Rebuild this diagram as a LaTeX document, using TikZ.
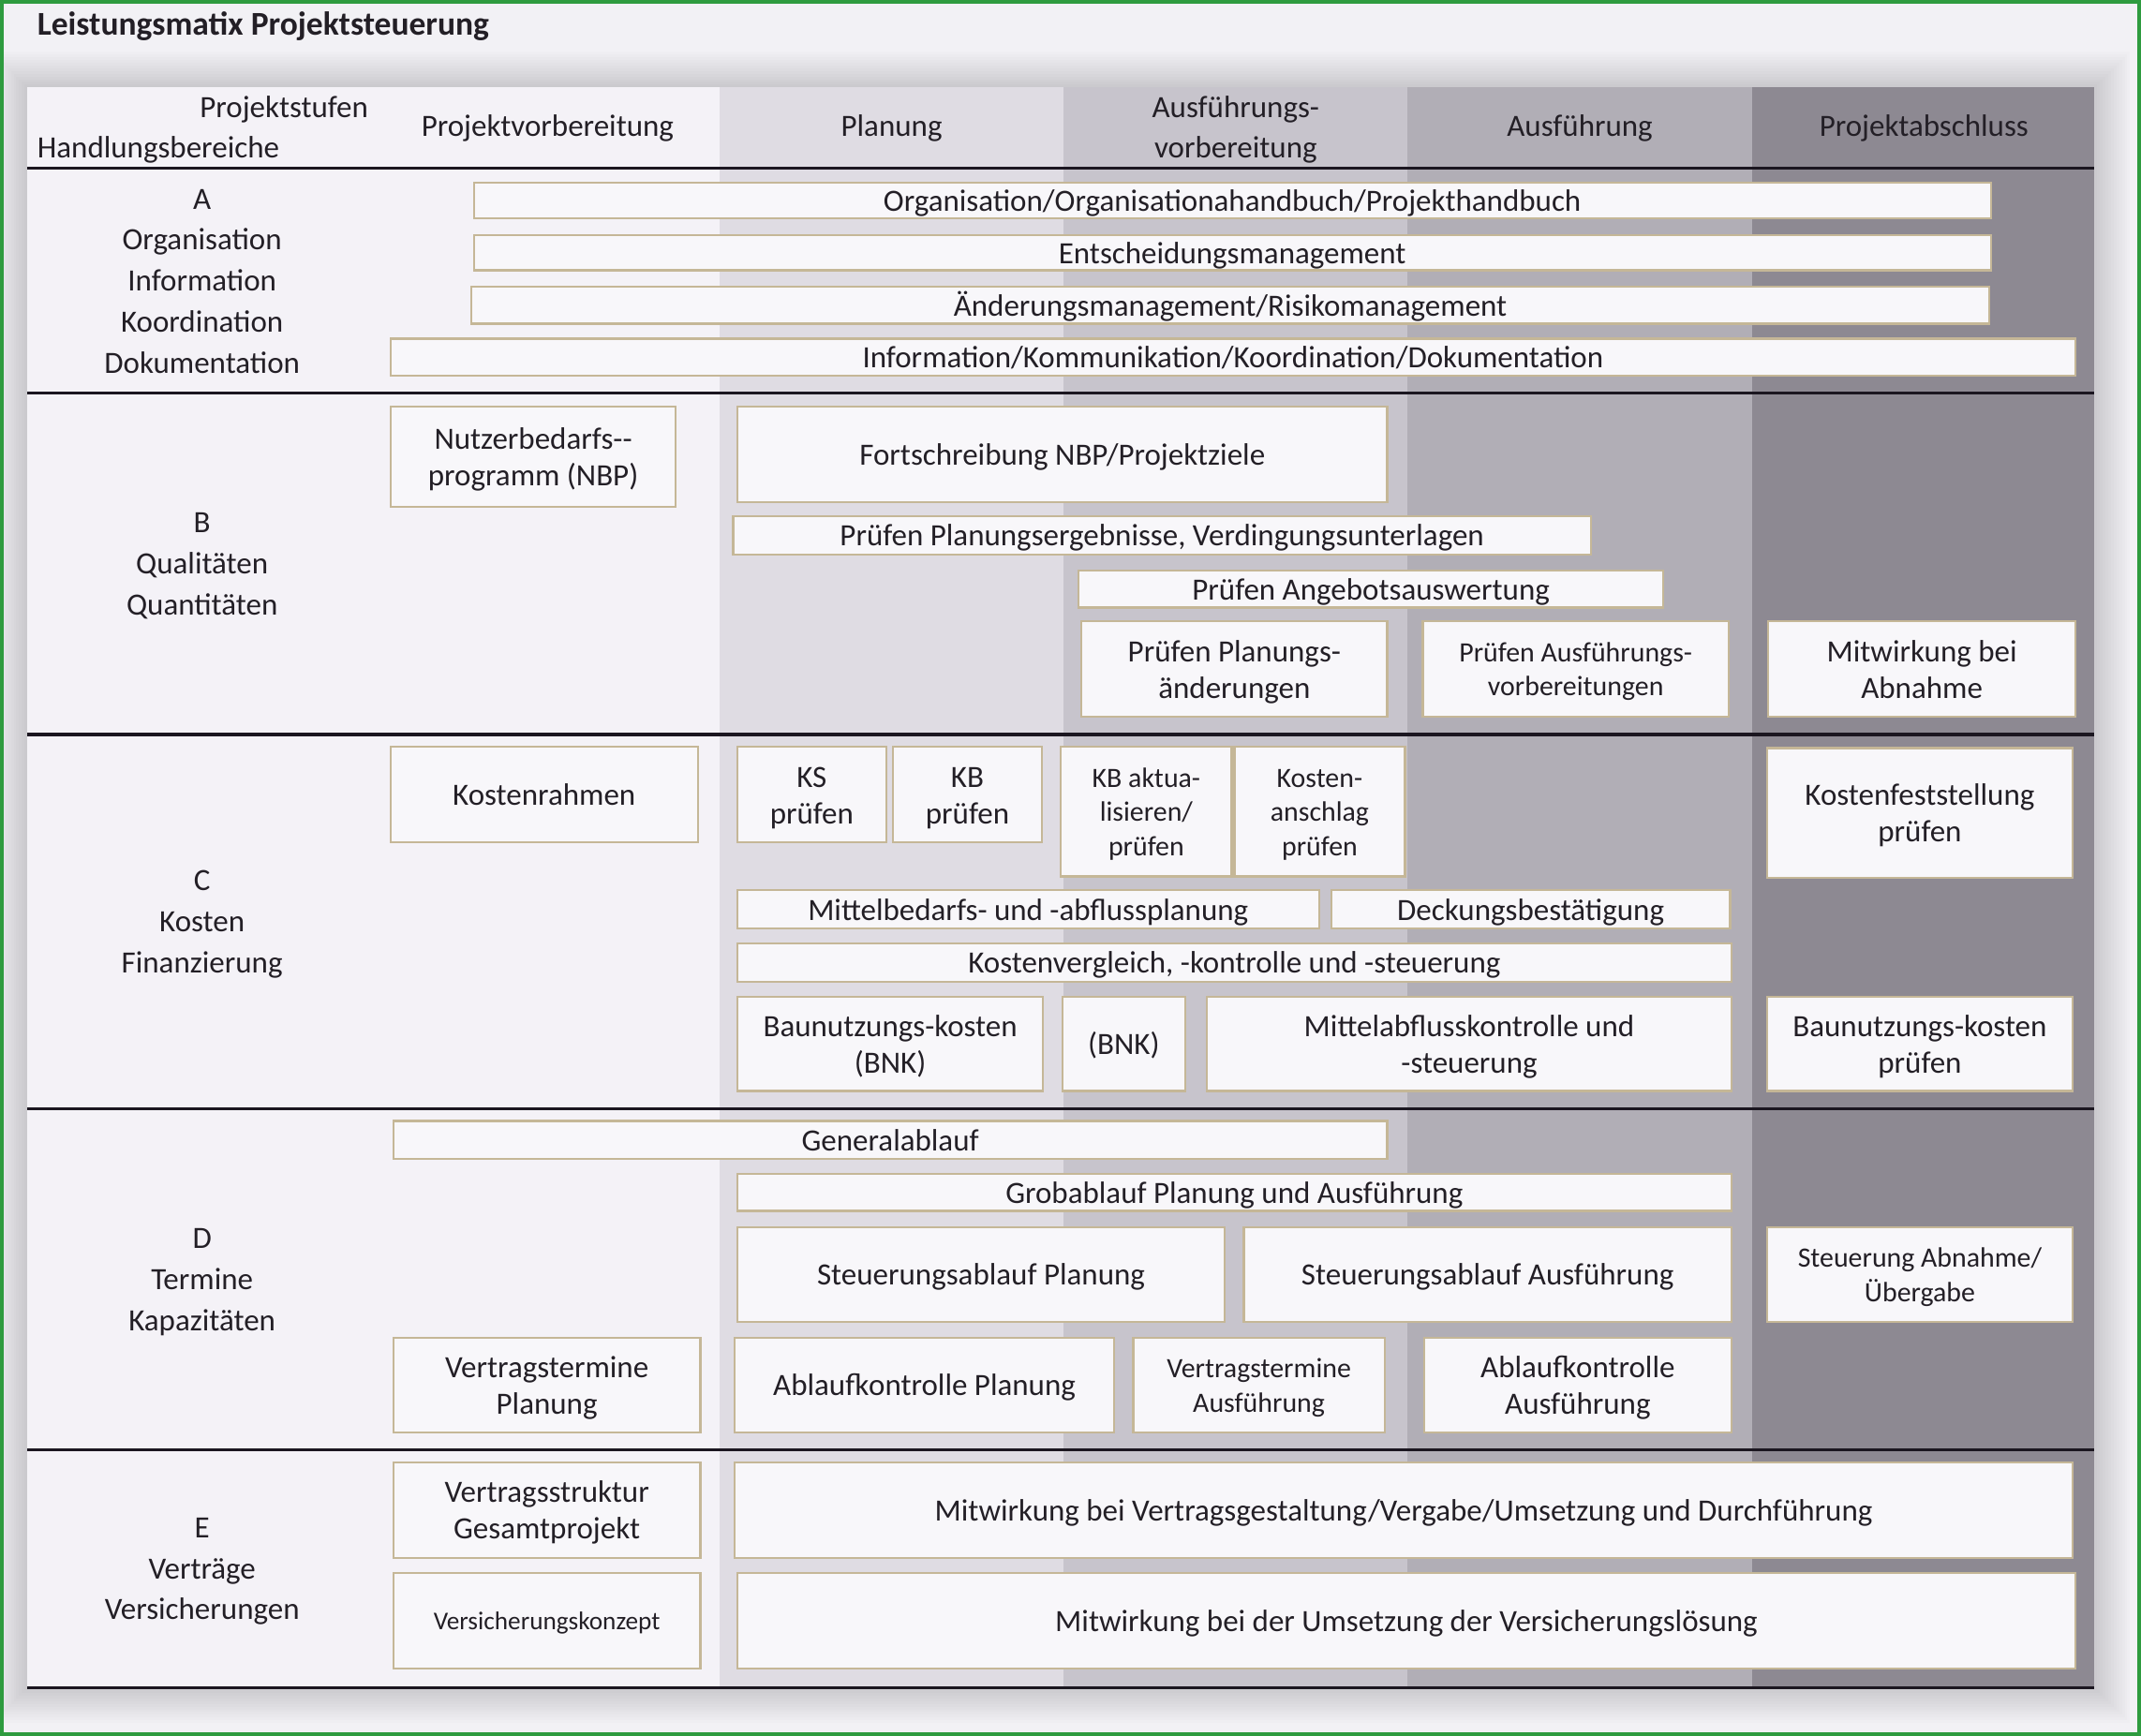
\documentclass[tikz,border=0pt]{standalone}
\usepackage{fontspec}
\setmainfont{Carlito}
\usetikzlibrary{positioning}

\definecolor{grund}{HTML}{F2F1F5}
\definecolor{rahmen}{HTML}{2E9B3F}
\definecolor{spalteA}{HTML}{F4F2F7}
\definecolor{spalteB}{HTML}{DFDCE3}
\definecolor{spalteC}{HTML}{C7C4CC}
\definecolor{spalteD}{HTML}{B1AEB6}
\definecolor{spalteE}{HTML}{8D8992}
\definecolor{feld}{HTML}{F8F7FA}
\definecolor{kante}{HTML}{C5B797}
\definecolor{linie}{HTML}{1B1620}
\definecolor{schrift}{HTML}{231F26}

\newcommand{\titelgr}{\fontsize{14.2}{17}\bfseries\selectfont}
\newcommand{\normalgr}{\fontsize{13.2}{15.7}\selectfont}
\newcommand{\kopfgr}{\fontsize{13.2}{17.5}\selectfont}
\newcommand{\kleingr}{\fontsize{11.95}{14.6}\selectfont}
\newcommand{\winziggr}{\fontsize{10.9}{13}\selectfont}
\newcommand{\zeilenhalt}{\rule[-0.2em]{0pt}{1.1em}}

% one task box: [options]{name}{x1}{y1}{x2}{y2}{text}
\newcommand{\aufgabe}[7][]{%
  \node[aufgabe,#1,minimum width={(#5-#3)*0.583pt},minimum height={(#6-#4)*0.583pt}]
    (#2) at ({(#3+#5)/2},{(#4+#6)/2}) {\zeilenhalt#7\zeilenhalt};}

\begin{document}
\begin{tikzpicture}[x=0.583pt,y=-0.583pt,
    aufgabe/.style={draw=kante,fill=feld,line width=0.9pt,inner xsep=1pt,inner ysep=0pt,align=center,text=schrift,font=\normalgr},
    klein/.style={font=\kleingr},
    kopf/.style={align=center,text=schrift,font=\kopfgr},
    zeile/.style={draw=linie,line width=1.3pt}]

    \useasboundingbox (0,0) rectangle (1568,1271.5);
    \fill[grund] (0,0) rectangle (1568,1271.5);

    % soft halo round the table
    \foreach \s in {2,4,...,26}
        \fill[black,opacity=0.012] (20-\s,64-\s) rectangle (1534+\s,1236+\s);

    % project stage columns
    \foreach \xa/\xb/\farbe in {20/527/spalteA, 527/779/spalteB, 779/1031/spalteC, 1031/1283/spalteD, 1283/1534/spalteE}
        \fill[\farbe] (\xa,64) rectangle (\xb,1236);

    \node[anchor=west,inner sep=0pt,text=schrift,font=\titelgr] (titel) at (27,19) {Leistungsmatix Projektsteuerung};

    % header
    \node[kopf,anchor=east,inner sep=0pt] (stufen) at (270,80) {Projektstufen};
    \node[kopf,anchor=west,inner sep=0pt] (handlung) at (27,110) {Handlungsbereiche};
    \node[kopf] (vorb)    at (401,94)  {Projektvorbereitung};
    \node[kopf] (plan)    at (653,94)  {Planung};
    \node[kopf] (ausfvor) at (905,95)  {Ausführungs-\\vorbereitung};
    \node[kopf] (ausf)    at (1157,94) {Ausführung};
    \node[kopf] (abschl)  at (1409,94) {Projektabschluss};

    \foreach \y in {123,288,538,812,1062,1236}
        \draw[zeile] (20,\y) -- (1534,\y);

    % Handlungsbereiche
    \node[kopf] (bereichA) at (148,206) {A\\Organisation\\Information\\Koordination\\Dokumentation};
    \node[kopf] (bereichB) at (148,414.5) {B\\Qualitäten\\Quantitäten};
    \node[kopf] (bereichC) at (148,677)   {C\\Kosten\\Finanzierung};
    \node[kopf] (bereichD) at (148,939)   {D\\Termine\\Kapazitäten};
    \node[kopf] (bereichE) at (148,1151)  {E\\Verträge\\Versicherungen};

    % A
    \aufgabe{org}{347}{134}{1458}{160}{Organisation/Organisationahandbuch/Projekthandbuch}
    \aufgabe{ents}{347}{172}{1458}{198}{Entscheidungsmanagement}
    \aufgabe{aend}{345}{210}{1457}{237}{Änderungsmanagement/Risikomanagement}
    \aufgabe{info}{286}{248}{1520}{275}{Information/Kommunikation/Koordination/Dokumentation}

    % B
    \aufgabe{nbp}{286}{298}{495}{371}{Nutzerbedarfs-{}-\\programm (NBP)}
    \aufgabe{fort}{540}{298}{1016}{368}{Fortschreibung NBP/Projektziele}
    \aufgabe{pplan}{537}{378}{1165}{406}{Prüfen Planungsergebnisse, Verdingungsunterlagen}
    \aufgabe{pang}{790}{418}{1218}{445}{Prüfen Angebotsauswertung}
    \aufgabe{paend}{792}{455}{1016}{525}{Prüfen Planungs-\\änderungen}
    \aufgabe[klein]{pausf}{1042}{455}{1266}{525}{Prüfen Ausführungs-\\vorbereitungen}
    \aufgabe{mabn}{1295}{455}{1520}{525}{Mitwirkung bei\\Abnahme}

    % C
    \aufgabe{krahmen}{286}{547}{511}{617}{Kostenrahmen}
    \aufgabe{ks}{540}{547}{649}{617}{KS\\prüfen}
    \aufgabe{kb}{654}{547}{763}{617}{KB\\prüfen}
    \aufgabe[klein]{kbakt}{777}{547}{902}{642}{KB aktua-\\lisieren/\\prüfen}
    \aufgabe[klein]{kanschl}{904}{547}{1029}{642}{Kosten-\\anschlag\\prüfen}
    \aufgabe{kfest}{1294}{548}{1518}{643}{Kostenfeststellung\\prüfen}
    \aufgabe{mittel}{540}{652}{966}{680}{Mittelbedarfs- und -abflussplanung}
    \aufgabe{deck}{975}{652}{1267}{680}{Deckungsbestätigung}
    \aufgabe{kvergl}{540}{691}{1268}{719}{Kostenvergleich, -kontrolle und -steuerung}
    \aufgabe{bnk}{540}{730}{764}{799}{Baunutzungs-kosten\\(BNK)}
    \aufgabe{bnkb}{778}{730}{868}{799}{(BNK)}
    \aufgabe{mabfl}{884}{730}{1268}{799}{Mittelabflusskontrolle und\\-steuerung}
    \aufgabe{bnkp}{1294}{730}{1518}{799}{Baunutzungs-kosten\\prüfen}

    % D
    \aufgabe{general}{288}{821}{1016}{849}{Generalablauf}
    \aufgabe{grob}{540}{860}{1268}{887}{Grobablauf Planung und Ausführung}
    \aufgabe{stplan}{540}{899}{897}{968}{Steuerungsablauf Planung}
    \aufgabe{stausf}{911}{899}{1268}{968}{Steuerungsablauf Ausführung}
    \aufgabe[klein]{stabn}{1294}{899}{1518}{968}{Steuerung Abnahme/\\Übergabe}
    \aufgabe{vtplan}{288}{980}{513}{1049}{Vertragstermine\\Planung}
    \aufgabe{akplan}{538}{980}{816}{1049}{Ablaufkontrolle Planung}
    \aufgabe[klein]{vtausf}{830}{980}{1014}{1049}{Vertragstermine\\Ausführung}
    \aufgabe{akausf}{1043}{980}{1268}{1049}{Ablaufkontrolle\\Ausführung}

    % E
    \aufgabe{vstrukt}{288}{1071}{513}{1141}{Vertragsstruktur\\Gesamtprojekt}
    \aufgabe{mvertr}{538}{1071}{1518}{1141}{Mitwirkung bei Vertragsgestaltung/Vergabe/Umsetzung und Durchführung}
    \aufgabe[font=\winziggr]{vkonz}{288}{1152}{513}{1222}{Versicherungskonzept}
    \aufgabe{mvers}{540}{1152}{1520}{1222}{Mitwirkung bei der Umsetzung der Versicherungslösung}

    \draw[rahmen,line width=1.6pt] (1.4,1.4) rectangle (1566.6,1270.1);
\end{tikzpicture}
\end{document}
